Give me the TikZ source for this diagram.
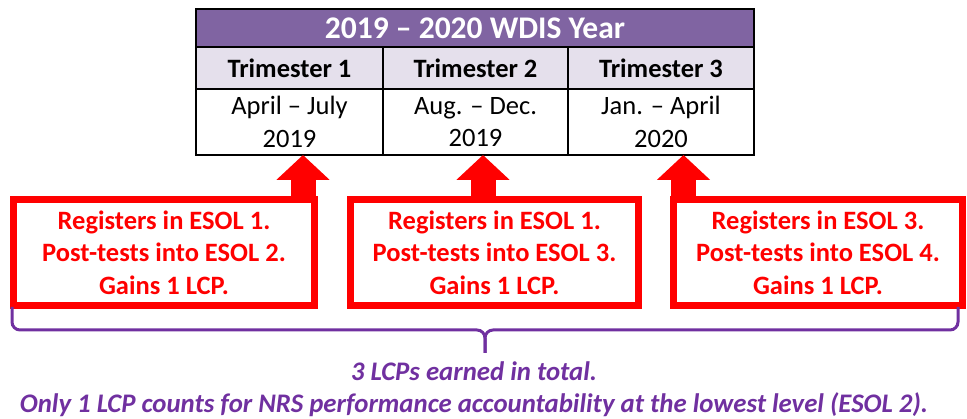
\documentclass[tikz,border=0pt]{standalone}
\usepackage{fontspec}
\setmainfont{Carlito}
\usetikzlibrary{arrows.meta}

\definecolor{wdispurple}{HTML}{8064A2}
\definecolor{wdislilac}{HTML}{E5E0EC}
\definecolor{lcppurple}{HTML}{7030A0}

\begin{document}
\begin{tikzpicture}[x=1pt, y=-1pt,
    cell/.style={draw=black, line width=2pt, inner sep=0pt, align=center,
      font=\fontsize{26.5}{32.5}\selectfont},
    esolbox/.style={draw=red, line width=7pt, inner sep=0pt, align=center,
      minimum height=106pt, text=red,
      font=\fontsize{26.5}{32.5}\selectfont\bfseries},
    uparrow/.style={draw=red, line width=25pt, -{Triangle[length=25pt, width=52pt]}},
    bracket/.style={draw=lcppurple, line width=3pt, rounded corners=8pt}]

    \useasboundingbox (0,0) rectangle (967,419);

    % WDIS year table
    \node[cell, fill=wdispurple, text=white, minimum width=558pt, minimum height=38pt,
      font=\fontsize{31.5}{36}\selectfont\bfseries] (year) at (475,28) {2019 -- 2020 WDIS Year};

    \node[cell, fill=wdislilac, minimum width=187pt, minimum height=42pt, font=\fontsize{26.5}{32.5}\selectfont\bfseries]
      (tri1) at (289.5,68) {Trimester 1};
    \node[cell, fill=wdislilac, minimum width=185pt, minimum height=42pt, font=\fontsize{26.5}{32.5}\selectfont\bfseries]
      (tri2) at (475.5,68) {Trimester 2};
    \node[cell, fill=wdislilac, minimum width=186pt, minimum height=42pt, font=\fontsize{26.5}{32.5}\selectfont\bfseries]
      (tri3) at (661,68) {Trimester 3};

    \node[cell, minimum width=187pt, minimum height=66pt] (date1) at (289.5,122) {April -- July\\2019};
    \node[cell, minimum width=185pt, minimum height=66pt] (date2) at (475.5,122) {Aug. -- Dec.\\2019};
    \node[cell, minimum width=186pt, minimum height=66pt] (date3) at (661,122) {Jan. -- April\\2020};

    % learner boxes
    \node[esolbox, minimum width=301pt] (reg1) at (164,252.5)
      {Registers in ESOL 1.\\Post-tests into ESOL 2.\\Gains 1 LCP.};
    \node[esolbox, minimum width=288pt] (reg2) at (494.5,252.5)
      {Registers in ESOL 1.\\Post-tests into ESOL 3.\\Gains 1 LCP.};
    \node[esolbox, minimum width=289pt] (reg3) at (818,252.5)
      {Registers in ESOL 3.\\Post-tests into ESOL 4.\\Gains 1 LCP.};

    \coordinate (tip1) at (303,155);
    \coordinate (tip2) at (483,155);
    \coordinate (tip3) at (683.5,155);
    \draw[uparrow] (reg1.north -| tip1) -- (tip1);
    \draw[uparrow] (reg2.north -| tip2) -- (tip2);
    \draw[uparrow] (reg3.north -| tip3) -- (tip3);

    % brace under the boxes
    \coordinate (bl) at (12,307);
    \coordinate (br) at (958,307);
    \coordinate (bmid) at (485,330);
    \coordinate (btip) at (485,353);
    \draw[bracket] (bl) |- (bmid) -- (btip);
    \draw[bracket] (br) |- (bmid) -- (btip);

    \node[align=center, inner sep=0pt, text=lcppurple,
      font=\fontsize{26.8}{32}\selectfont\bfseries\itshape] (total) at (474,389)
      {3 LCPs earned in total.\\Only 1 LCP counts for NRS performance accountability at the lowest level (ESOL 2).};
\end{tikzpicture}
\end{document}
